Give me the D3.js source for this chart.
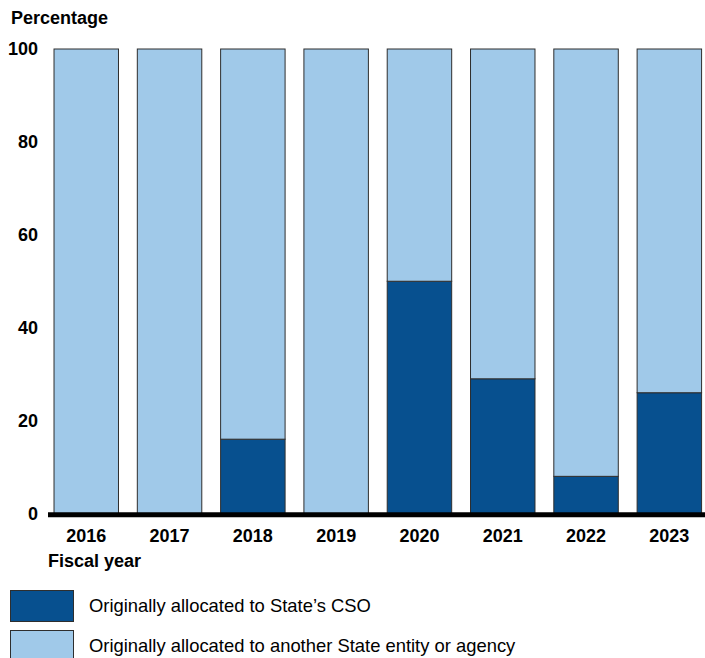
<!DOCTYPE html>
<html>
<head>
<meta charset="utf-8">
<script src="https://cdn.jsdelivr.net/npm/d3@7"></script>
<style>
  html, body { margin: 0; padding: 0; background: #fff; }
  svg { display: block; font-family: "Liberation Sans", Arial, sans-serif; }
</style>
</head>
<body>
<svg id="chart" width="705" height="658"></svg>
<script>
// Fiscal years and share of funds (percent) by original allocation
const years = ["2016", "2017", "2018", "2019", "2020", "2021", "2022", "2023"];
const csoShare = [0, 0, 16, 0, 50, 29, 8, 26];
const otherShare = [100, 100, 84, 100, 50, 71, 92, 74];
const yTicks = [0, 20, 40, 60, 80, 100];
const seriesNames = ["Originally allocated to State\u2019s CSO", "Originally allocated to another State entity or agency"];
const seriesColors = ["#07508f", "#a0c9e9"];

const svg = d3.select("#chart");

const y = d3.scaleLinear().domain([0, 100]).range([513.5, 49]);
const x = d3.scaleBand()
  .domain(years)
  .range([44.6, 711])
  .paddingInner(0.226)
  .paddingOuter(0.113);

const rows = years.map((yr, i) => ({ year: yr, cso: csoShare[i], other: otherShare[i] }));
const stacked = d3.stack().keys(["cso", "other"])(rows);

svg.append("g").selectAll("g")
  .data(stacked)
  .join("g")
  .attr("fill", (d, i) => seriesColors[i])
  .selectAll("rect")
  .data(d => d.filter(s => s[1] - s[0] > 0))
  .join("rect")
  .attr("x", d => x(d.data.year))
  .attr("width", x.bandwidth())
  .attr("y", d => y(d[1]))
  .attr("height", d => y(d[0]) - y(d[1]))
  .attr("stroke", "#2e2e2e")
  .attr("stroke-width", 1);

// Baseline
svg.append("line")
  .attr("x1", 48).attr("x2", 705)
  .attr("y1", y(0) + 1.3).attr("y2", y(0) + 1.3)
  .attr("stroke", "#000")
  .attr("stroke-width", 5);

// Y axis tick labels
const yAxis = d3.axisLeft(y).tickValues(yTicks).tickSize(0).tickPadding(0);
const gy = svg.append("g").attr("transform", "translate(38,0)").call(yAxis);
gy.select(".domain").remove();
gy.selectAll("text")
  .attr("font-family", "Liberation Sans, Arial, sans-serif")
  .attr("font-size", 18)
  .attr("font-weight", "bold")
  .attr("fill", "#000");

// X axis labels
const xAxis = d3.axisBottom(x).tickSize(0).tickPadding(0);
const gx = svg.append("g").attr("transform", "translate(0,529)").call(xAxis);
gx.select(".domain").remove();
gx.selectAll("text")
  .attr("font-family", "Liberation Sans, Arial, sans-serif")
  .attr("font-size", 18)
  .attr("font-weight", "bold")
  .attr("fill", "#000");

// Axis titles
svg.append("text")
  .attr("x", 11).attr("y", 24)
  .attr("font-size", 18).attr("font-weight", "bold")
  .text("Percentage");

svg.append("text")
  .attr("x", 48).attr("y", 567)
  .attr("font-size", 18).attr("font-weight", "bold")
  .text("Fiscal year");

// Legend
const legend = svg.append("g").selectAll("g")
  .data(seriesNames)
  .join("g")
  .attr("transform", (d, i) => `translate(10.5,${590.5 + i * 40})`);

legend.append("rect")
  .attr("width", 63).attr("height", 31)
  .attr("fill", (d, i) => seriesColors[i])
  .attr("stroke", "#2e2e2e").attr("stroke-width", 1);

legend.append("text")
  .attr("x", 78.5).attr("y", 15.5)
  .attr("dy", "0.35em")
  .attr("font-size", 18.4)
  .attr("fill", "#000")
  .text(d => d);
</script>
</body>
</html>
